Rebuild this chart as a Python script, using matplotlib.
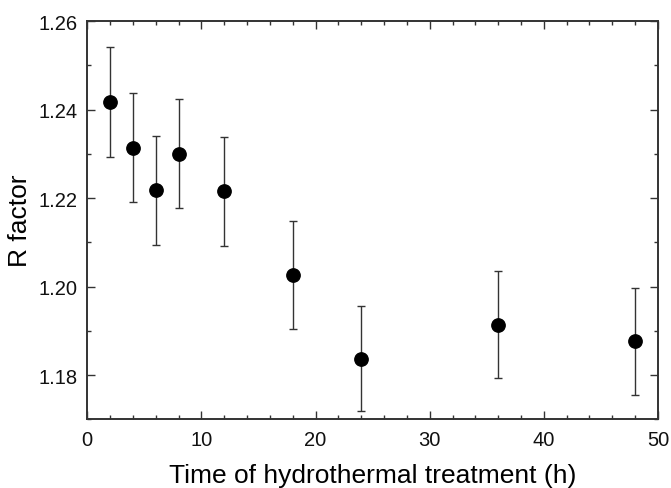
import matplotlib
matplotlib.use("Agg")
import matplotlib.pyplot as plt
from matplotlib.ticker import MultipleLocator

hours = [2, 4, 6, 8, 12, 18, 24, 36, 48]
r_factor = [1.2417, 1.2314, 1.2217, 1.2300, 1.2215, 1.2027, 1.1837, 1.1914, 1.1876]
r_error = [0.0124, 0.0123, 0.0124, 0.0123, 0.0123, 0.0122, 0.0119, 0.0120, 0.0120]

plt.rcParams['font.family'] = ['Liberation Sans', 'DejaVu Sans']

fig = plt.figure(figsize=(6.71, 4.89), dpi=100)
ax = fig.add_axes([0.130, 0.1405, 0.8506, 0.8145])

ax.errorbar(hours, r_factor, yerr=r_error, fmt='o', color='black',
            markersize=9.6, ecolor='#333333', elinewidth=1.0, capsize=3.2,
            capthick=1.0)

ax.set_xlim(0, 50)
ax.set_ylim(1.17, 1.26)
ax.xaxis.set_major_locator(MultipleLocator(10))
ax.xaxis.set_minor_locator(MultipleLocator(2))
ax.yaxis.set_major_locator(MultipleLocator(0.02))
ax.yaxis.set_minor_locator(MultipleLocator(0.01))
ax.yaxis.set_major_formatter(matplotlib.ticker.FormatStrFormatter('%.2f'))

ax.tick_params(which='both', direction='in', top=True, right=True,
               width=1.0, color='#333333', labelsize=14.5, labelcolor='#111111')
ax.tick_params(which='major', length=6)
ax.tick_params(axis='x', which='major', pad=8)
ax.tick_params(axis='y', which='major', pad=7)
ax.tick_params(which='minor', length=3)
for s in ax.spines.values():
    s.set_linewidth(1.4)
    s.set_color('#333333')

ax.set_xlabel('Time of hydrothermal treatment (h)', fontsize=19, labelpad=10)
ax.set_ylabel('R factor', fontsize=19)
ax.yaxis.set_label_coords(-0.097, 0.5)

fig.savefig('out.png', dpi=100)
